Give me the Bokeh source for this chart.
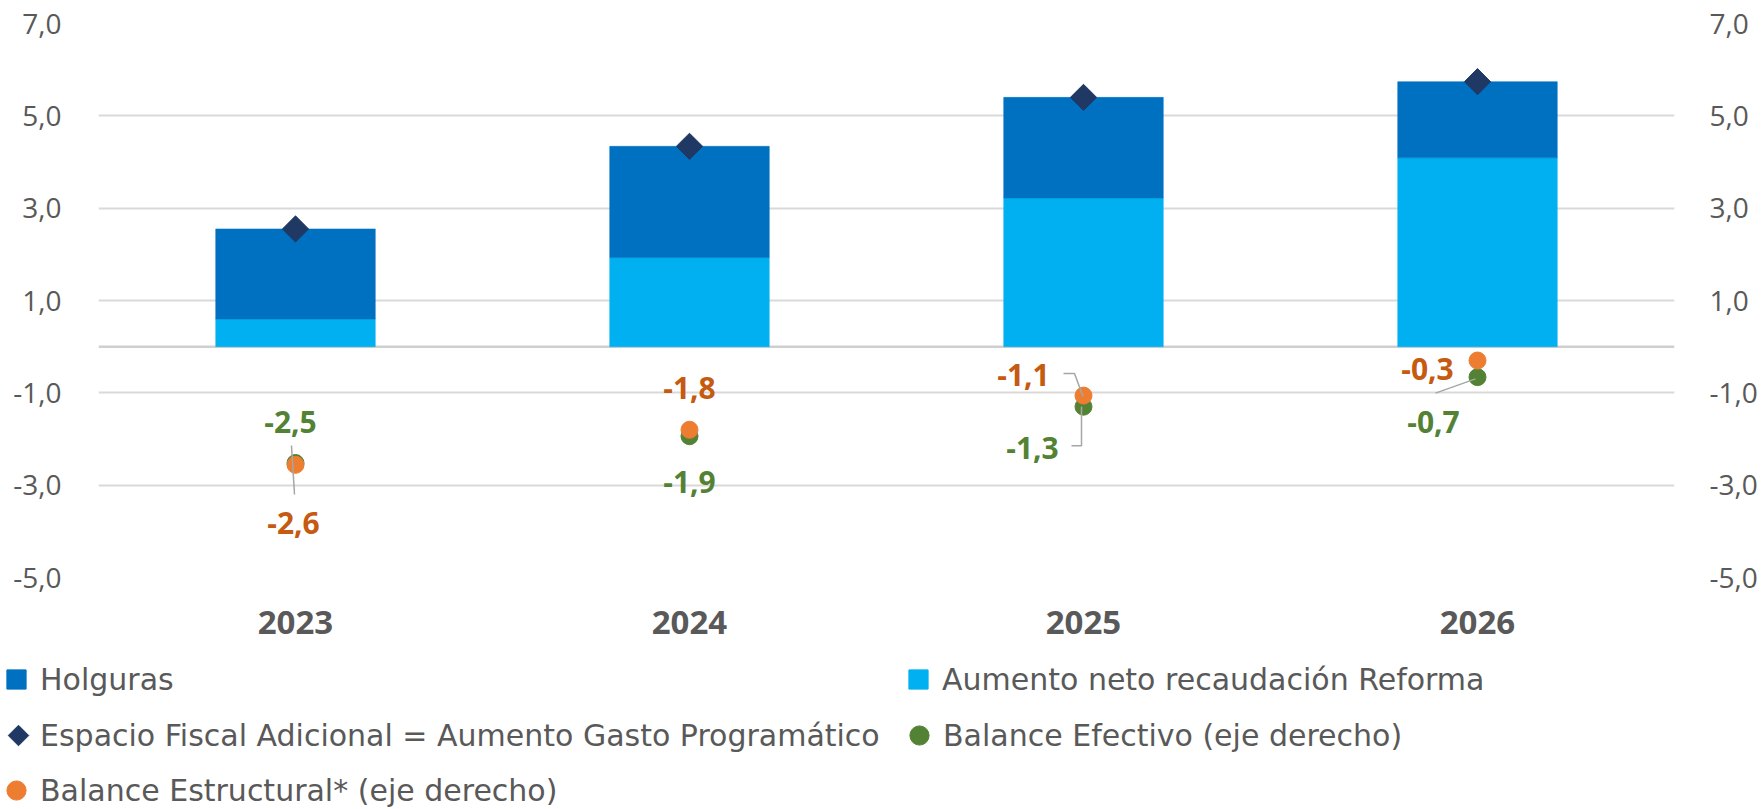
import math
from bokeh.plotting import figure
from bokeh.layouts import column
from bokeh.models import (Range1d, LinearAxis, FixedTicker, ColumnDataSource, Span,
                          Legend, LegendItem)
from bokeh.core.properties import value
from bokeh.embed import file_html
from bokeh.resources import INLINE

# ---------------- data ----------------
years = ["2023", "2024", "2025", "2026"]
aumento = [0.60, 1.93, 3.22, 4.09]             # Aumento neto recaudación Reforma
holguras = [1.95, 2.41, 2.18, 1.65]            # Holguras
espacio = [2.55, 4.34, 5.40, 5.74]             # Espacio Fiscal Adicional
bal_efectivo = [-2.52, -1.94, -1.30, -0.66]     # Balance Efectivo (eje derecho)
bal_estructural = [-2.56, -1.80, -1.06, -0.30]  # Balance Estructural* (eje derecho)
y_ticks = [-5, -3, -1, 1, 3, 5, 7]

# ---------------- layout / style ----------------
FONT = "Open Sans"
LEG_FONT = "DejaVu Sans"
W = 1762
HM, HL = 657, 152            # main chart height, legend strip height
ML, MR, MT = 98, 88, 23
MB = HM - 577
FW, FH = W - ML - MR, HM - MT - MB
Y0, Y1 = -5, 7
PX_X = FW / len(years)
PX_Y = FH / (Y1 - Y0)
GREY = "#595959"
C_DARK, C_LIGHT, C_DIAM = "#0070C0", "#00B0F0", "#1F3864"
C_GREEN, C_ORANGE = "#548235", "#ED7D31"
C_GREEN_T, C_ORANGE_T = "#548235", "#C55A11"

xs = [i + 0.5 for i in range(len(years))]


def fmt(v):
    return f"{v:.1f}".replace(".", ",")


p = figure(width=W, height=HM, x_range=Range1d(0, len(years)), y_range=Range1d(Y0, Y1),
           output_backend="svg", toolbar_location=None,
           min_border_left=ML, min_border_right=MR, min_border_top=MT, min_border_bottom=MB)
p.extra_y_ranges = {"right": Range1d(Y0, Y1)}
p.outline_line_color = None
p.background_fill_color = "white"
p.border_fill_color = "white"

# grid
p.xgrid.grid_line_color = None
p.ygrid.ticker = FixedTicker(ticks=y_ticks)
p.ygrid.grid_line_color = "#D9D9D9"
p.ygrid.grid_line_width = 2
p.add_layout(Span(location=0, dimension="width", line_color="#CFCFCF", line_width=2.5,
                  level="underlay"))

# axes
p.xaxis.ticker = FixedTicker(ticks=xs)
p.xaxis.major_label_overrides = {x: y for x, y in zip(xs, years)}
p.xaxis.major_label_text_font = FONT
p.xaxis.major_label_text_font_size = "33px"
p.xaxis.major_label_text_font_style = "bold"
p.xaxis.major_label_text_color = GREY
p.xaxis.major_label_standoff = 27

p.yaxis.ticker = FixedTicker(ticks=y_ticks)
p.yaxis.major_label_overrides = {t: fmt(t) for t in y_ticks}
p.yaxis.major_label_standoff = 31

right = LinearAxis(y_range_name="right", ticker=FixedTicker(ticks=y_ticks),
                   major_label_overrides={t: fmt(t) for t in y_ticks},
                   major_label_standoff=29)
p.add_layout(right, "right")

for ax in [p.xaxis[0], p.yaxis[0], right]:
    ax.axis_line_color = None
    ax.major_tick_line_color = None
    ax.minor_tick_line_color = None
for ax in [p.yaxis[0], right]:
    ax.major_label_text_font = FONT
    ax.major_label_text_font_size = "28px"
    ax.major_label_text_color = GREY

# bars
src = ColumnDataSource(dict(x=xs, aumento=aumento, holguras=holguras))
p.vbar_stack(["aumento", "holguras"], x="x", width=0.405, source=src,
             fill_color=[C_LIGHT, C_DARK], line_color=[C_LIGHT, C_DARK], line_width=0.5)

# diamonds (Espacio Fiscal Adicional)
p.scatter(x=xs, y=espacio, marker="square", angle=math.pi / 4, size=18.5,
          fill_color=C_DIAM, line_color=C_DIAM)

# balances (right axis)
p.scatter(x=xs, y=bal_efectivo, size=17, fill_color=C_GREEN, line_color=C_GREEN,
          y_range_name="right")
p.scatter(x=xs, y=bal_estructural, size=17, fill_color=C_ORANGE, line_color=C_ORANGE,
          y_range_name="right")

# leader lines: (series, index, pixel offsets from the point; +dy = down)
leaders = [
    (bal_efectivo, 0, [(-4, -17.5), (-1, 31.5)]),
    (bal_estructural, 2, [(-20, -22), (-9, -22), (-0.5, 1)]),
    (bal_efectivo, 2, [(-12, 39), (-2, 39), (-2, 0)]),
    (bal_efectivo, 3, [(-42, 16), (-2, 1.7)]),
]
lx, ly = [], []
for ser, i, offs in leaders:
    lx.append([xs[i] + dx / PX_X for dx, dy in offs])
    ly.append([ser[i] - dy / PX_Y for dx, dy in offs])
p.multi_line(xs=lx, ys=ly, line_color="#A6A6A6", line_width=1.5, y_range_name="right")

# data labels (pixel offsets, +dy = down)
green_off = [(-5, -41), (0, 46), (-51, 41), (-44, 45)]
orange_off = [(-2, 58), (0, -42), (-60, -21), (-50, 8)]
for ser, offs, col in [(bal_efectivo, green_off, C_GREEN_T),
                       (bal_estructural, orange_off, C_ORANGE_T)]:
    p.text(x=[x + dx / PX_X for x, (dx, dy) in zip(xs, offs)],
           y=[v - dy / PX_Y for v, (dx, dy) in zip(ser, offs)],
           text=[fmt(v) for v in ser], text_font=value(FONT), text_font_style="bold",
           text_font_size="30px", text_color=col, text_align="center",
           text_baseline="middle", y_range_name="right")

# ---------------- legend strip (pixel coordinates, y downwards) ----------------
pl = figure(width=W, height=HL, x_range=Range1d(0, W), y_range=Range1d(HL, 0),
            output_backend="svg", toolbar_location=None, x_axis_type=None, y_axis_type=None,
            min_border=0, min_border_left=0, min_border_right=0, min_border_top=0,
            min_border_bottom=0)
pl.frame_align = False
pl.outline_line_color = None
pl.xgrid.grid_line_color = None
pl.ygrid.grid_line_color = None

# swatch renderers for the legend (their single point lies outside the visible range)
hid = dict(x=[-100], y=[-100])
lg_h = pl.scatter(marker="square", fill_color=C_DARK, line_color=C_DARK, **hid)
lg_a = pl.scatter(marker="square", fill_color=C_LIGHT, line_color=C_LIGHT, **hid)
lg_d = pl.scatter(marker="square", fill_alpha=0, line_alpha=0, **hid)
lg_g = pl.scatter(marker="circle", fill_color=C_GREEN, line_color=C_GREEN, **hid)
lg_o = pl.scatter(marker="circle", fill_color=C_ORANGE, line_color=C_ORANGE, **hid)

# diamond swatch (legend glyphs are drawn unrotated, so this one is drawn directly)
DIAM_SWATCH = (18, 78)
pl.scatter(x=[DIAM_SWATCH[0]], y=[DIAM_SWATCH[1]], marker="square", angle=math.pi / 4,
           size=14.5, fill_color=C_DIAM, line_color=C_DIAM)


def add_legend(label, rend, cx, cy, box, standoff):
    vx = cx - box / 2
    vy = HL - cy - box / 2
    lg = Legend(items=[LegendItem(label=label, renderers=[rend])], location=(vx, vy),
                padding=0, margin=0, spacing=0, border_line_color=None,
                background_fill_alpha=0, glyph_width=box, glyph_height=box,
                label_standoff=standoff, label_text_font=LEG_FONT,
                label_text_font_size="30px", label_text_color=GREY)
    pl.add_layout(lg, "center")


add_legend("Holguras", lg_h, 16, 22, 48, 0)
add_legend("Aumento neto recaudación Reforma", lg_a, 918, 22, 48, 0)
add_legend("Espacio Fiscal Adicional = Aumento Gasto Programático", lg_d,
           DIAM_SWATCH[0], DIAM_SWATCH[1], 36, 4)
add_legend("Balance Efectivo (eje derecho)", lg_g, 919, 78, 48, 0)
add_legend("Balance Estructural* (eje derecho)", lg_o, 16, 133, 48, 0)

layout = column(p, pl, spacing=0)
open("out.html", "w").write(file_html(layout, INLINE))
